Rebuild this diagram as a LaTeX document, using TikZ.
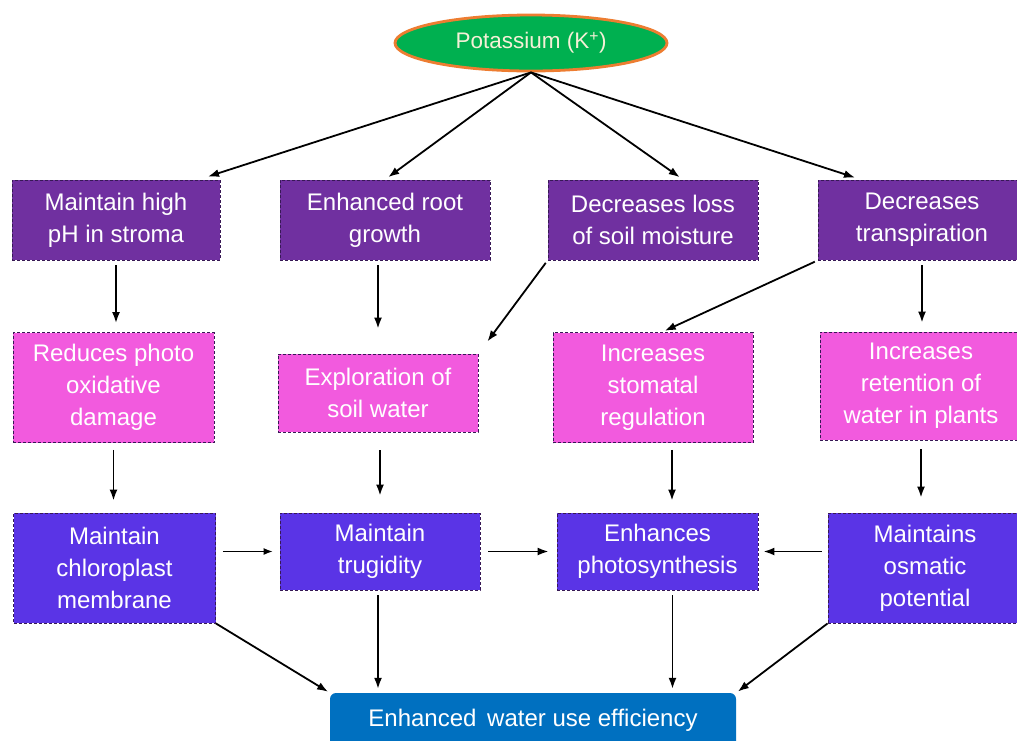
\documentclass[tikz,border=0pt]{standalone}
\usepackage{fontspec}
\setmainfont{Liberation Sans}
\usetikzlibrary{positioning,arrows.meta,calc,shapes.geometric}
\definecolor{kgreen}{RGB}{0,176,80}
\definecolor{korange}{RGB}{237,125,49}
\definecolor{rowone}{RGB}{112,48,160}
\definecolor{rowtwo}{RGB}{242,90,222}
\definecolor{rowthree}{RGB}{90,52,230}
\definecolor{wuebox}{RGB}{0,112,192}
\definecolor{boxedge}{RGB}{55,25,85}
\definecolor{ktext}{RGB}{245,240,215}

\begin{document}
\begin{tikzpicture}[x=1pt,y=-1pt,font=\fontsize{24}{32}\selectfont,
  kbox/.style={draw=boxedge,densely dashed,line width=0.9pt,text=white,align=center,inner sep=0pt},
  rowa/.style={kbox,fill=rowone,minimum width=208pt,minimum height=80pt},
  rowb/.style={kbox,fill=rowtwo,minimum width=201pt,minimum height=110pt},
  rowc/.style={kbox,fill=rowthree,minimum width=202pt,minimum height=110pt},
  arr/.style={-{Latex[length=11pt,width=8pt]},line width=1.8pt},
  thinarr/.style={-{Latex[length=9pt,width=7pt]},line width=1.1pt}]
\useasboundingbox (0,0) rectangle (1017,740);
% Top
\node[ellipse,fill=kgreen,draw=korange,line width=2.8pt,minimum width=272pt,minimum height=56pt,
  text=ktext,font=\fontsize{22.5}{26}\selectfont] (K) at (531,43) {Potassium (K\textsuperscript{+})};
% First row
\node[rowa] (A1) at (116,220) {Maintain high\\pH in stroma};
\node[rowa,minimum width=210pt] (A2) at (385,220) {Enhanced root\\growth};
\node[rowa,minimum width=210pt] (A3) at (653,220) {Decreases loss\\of soil moisture};
\node[rowa] (A4) at (922,220) {Decreases\\transpiration};
% Second row
\node[rowb] (B1) at (113.5,387.5) {Reduces photo\\oxidative\\damage};
\node[rowb,minimum width=200pt,minimum height=78pt] (B2) at (378,393) {Exploration of\\soil water};
\node[rowb,minimum width=200pt] (B3) at (653,387.5) {Increases\\stomatal\\regulation};
\node[rowb,minimum width=202pt,minimum height=108pt] (B4) at (921,386) {Increases\\retention of\\water in plants};
% Third row
\node[rowc] (C1) at (114.5,568) {Maintain\\chloroplast\\membrane};
\node[rowc,minimum width=200pt,minimum height=77pt] (C2) at (380,551.5) {Maintain\\trugidity};
\node[rowc,minimum width=201pt,minimum height=77pt] (C3) at (657.5,551.5) {Enhances\\photosynthesis};
\node[rowc,minimum width=194pt] (C4) at (925,568) {Maintains\\osmatic\\potential};
% Bottom
\node[fill=wuebox,rounded corners=6pt,minimum width=406pt,minimum height=54pt,text=white,
  font=\fontsize{24}{28}\selectfont] (W) at (533,720) {Enhanced\,\ water use efficiency};
% Arrows from potassium
\draw[arr] (K.south) -- ([xshift=92pt,yshift=3pt]A1.north);
\draw[arr,shorten >=4pt] (K.south) -- (A2.north);
\draw[arr,shorten >=4pt] (K.south) -- ([xshift=30pt]A3.north);
\draw[arr] (K.south) -- ([xshift=-67pt,yshift=2pt]A4.north);
% First to second row
\draw[arr,shorten <=5pt,shorten >=9pt] (A1.south) -- (A1.south |- B1.north);
\draw[arr,shorten <=5pt,shorten >=25pt] (A2.south -| B2) -- (B2.north);
\draw[arr,shorten <=3pt,shorten >=15pt] (A3.south west) -- (B2.north east);
\draw[arr,shorten <=3pt,shorten >=3pt] (A4.south west) -- ([xshift=9pt]B3.north);
\draw[arr,shorten <=5pt,shorten >=9pt] (A4.south) -- (A4.south |- B4.north);
% Second to third row
\draw[arr,shorten <=7pt,shorten >=12pt] (B1.south) -- (B1.south |- C1.north);
\draw[arr,shorten <=18pt,shorten >=17pt] (B2.south -| C2) -- (C2.north);
\draw[arr,shorten <=7pt,shorten >=12pt] ([xshift=19pt]B3.south) -- ([xshift=19pt]B3.south |- C3.north);
\draw[arr,shorten <=9pt,shorten >=15pt] (B4.south) -- (B4.south |- C4.north);
% Across third row
\draw[thinarr,shorten <=7pt,shorten >=7pt] (C1.east |- C2) -- (C2.west);
\draw[arr,shorten <=8pt,shorten >=8pt] (C2.east) -- (C3.west);
\draw[arr,shorten <=6pt,shorten >=5pt] (C4.west |- C3) -- (C3.east);
% Into bottom box
\draw[arr,shorten >=2pt] (C1.south east) -- (W.north west);
\draw[arr,shorten <=5pt,shorten >=4pt] (C2.south -| 378,0) -- (W.north -| 378,0);
\draw[arr,shorten <=5pt,shorten >=4pt] ([xshift=15pt]C3.south) -- ([xshift=15pt]C3.south |- W.north);
\draw[arr,shorten >=2pt] (C4.south west) -- (W.north east);
\end{tikzpicture}
\end{document}
